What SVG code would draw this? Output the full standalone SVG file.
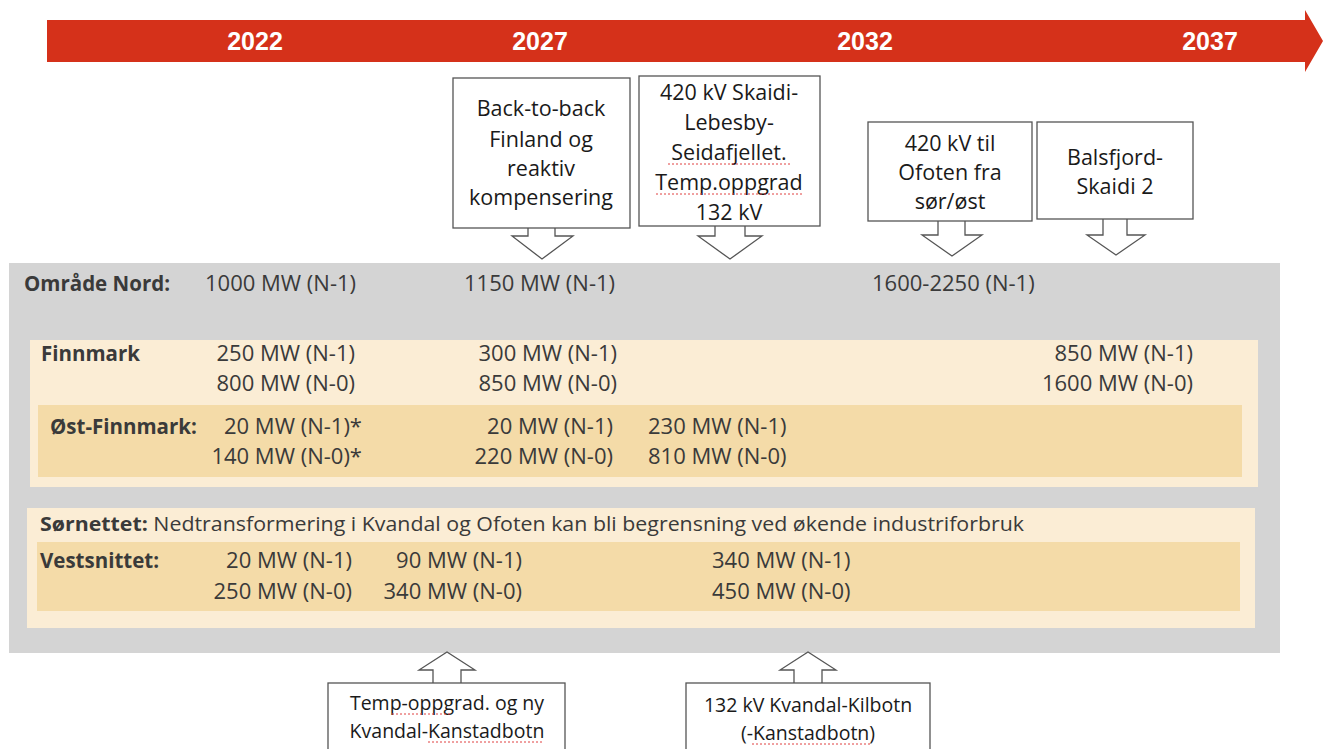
<svg xmlns="http://www.w3.org/2000/svg" width="1323" height="749" viewBox="0 0 1323 749">
<style>
.yr{font-family:"Liberation Sans",Arial,sans-serif;font-weight:bold;font-size:25px;fill:#fff;text-anchor:middle}
.bx{fill:#fff;stroke:#555;stroke-width:1.3}
.bt{font-family:"Open Sans","Liberation Sans",sans-serif;font-size:21.5px;fill:#1a1a1a;text-anchor:middle}
.bs{font-size:19.5px}
.t{font-family:"Open Sans","Liberation Sans",sans-serif;font-size:22px;fill:#3a3a3a}
.b{font-weight:bold;font-size:20.5px}
.r{text-anchor:end}
.ba{fill:#fff;stroke:#555;stroke-width:1.3}
.sq{stroke:#e04040;stroke-width:1;stroke-dasharray:2 2;fill:none}
</style>
<rect width="1323" height="749" fill="#fff"/>
<g id="timeline">
<path d="M47 20 H1305 V10 L1323 41 L1305 72 V62 H47 Z" fill="#d5311a"/>
<text class="yr" x="255" y="50">2022</text>
<text class="yr" x="540" y="50">2027</text>
<text class="yr" x="865" y="50">2032</text>
<text class="yr" x="1210" y="50">2037</text>
</g>
<g id="omrade-nord">
<rect x="9" y="263" width="1271" height="390" fill="#d4d4d4"/>
<text class="t b" x="24" y="291">Område Nord:</text>
<text class="t" x="205" y="291">1000 MW (N-1)</text>
<text class="t" x="464" y="291">1150 MW (N-1)</text>
<text class="t" x="872" y="291">1600-2250 (N-1)</text>
</g>
<g id="finnmark">
<rect x="30" y="340" width="1228" height="147" fill="#fbedd5"/>
<text class="t b" x="41" y="361">Finnmark</text>
<text class="t r" x="355" y="361">250 MW (N-1)</text>
<text class="t r" x="355" y="391">800 MW (N-0)</text>
<text class="t r" x="617" y="361">300 MW (N-1)</text>
<text class="t r" x="617" y="391">850 MW (N-0)</text>
<text class="t r" x="1193" y="361">850 MW (N-1)</text>
<text class="t r" x="1193" y="391">1600 MW (N-0)</text>
</g>
<g id="ost-finnmark">
<rect x="38" y="405" width="1204" height="72" fill="#f4dba8"/>
<text class="t b" x="50" y="434">Øst-Finnmark:</text>
<text class="t r" x="362" y="434">20 MW (N-1)*</text>
<text class="t r" x="362" y="464">140 MW (N-0)*</text>
<text class="t r" x="613" y="434">20 MW (N-1)</text>
<text class="t r" x="613" y="464">220 MW (N-0)</text>
<text class="t" x="648" y="434">230 MW (N-1)</text>
<text class="t" x="648" y="464">810 MW (N-0)</text>
</g>
<g id="sornettet">
<rect x="27" y="508" width="1228" height="120" fill="#fbedd5"/>
<text class="t" x="40" y="531" textLength="984" lengthAdjust="spacingAndGlyphs" style="font-size:20px"><tspan style="font-weight:bold">Sørnettet:</tspan> Nedtransformering i Kvandal og Ofoten kan bli begrensning ved økende industriforbruk</text>
</g>
<g id="vestsnittet">
<rect x="37" y="542" width="1203" height="69" fill="#f4dba8"/>
<text class="t b" x="40" y="568">Vestsnittet:</text>
<text class="t r" x="352" y="568">20 MW (N-1)</text>
<text class="t r" x="352" y="599">250 MW (N-0)</text>
<text class="t r" x="522" y="568">90 MW (N-1)</text>
<text class="t r" x="522" y="599">340 MW (N-0)</text>
<text class="t" x="712" y="568">340 MW (N-1)</text>
<text class="t" x="712" y="599">450 MW (N-0)</text>
</g>
<g id="connectors">
<path class="ba" d="M528 228 V236 H512 L542 259 L573 236 H555 V228"/>
<path class="ba" d="M715 226 V236 H698 L730 259 L762 236 H745 V226"/>
<path class="ba" d="M938 221 V235 H922 L952 256 L982 235 H965 V221"/>
<path class="ba" d="M1103 219 V235 H1087 L1116 255 L1145 235 H1127 V219"/>
<path class="ba" d="M433 683 V670 H419 L447 652 L475 670 H461 V683"/>
<path class="ba" d="M794 683 V670 H780 L808 652 L836 670 H822 V683"/>
</g>
<g id="box-backtoback">
<rect class="bx" x="453" y="78" width="177" height="150"/>
<text class="bt" x="541" y="116">Back-to-back</text>
<text class="bt" x="541" y="147">Finland og</text>
<text class="bt" x="541" y="176">reaktiv</text>
<text class="bt" x="541" y="205">kompensering</text>
</g>
<g id="box-skaidi-lebesby">
<rect class="bx" x="639" y="76" width="181" height="150"/>
<text class="bt" x="729" y="100">420 kV Skaidi-</text>
<text class="bt" x="729" y="130">Lebesby-</text>
<text class="bt" x="729" y="160">Seidafjellet.</text>
<text class="bt" x="729" y="190">Temp.oppgrad</text>
<text class="bt" x="729" y="220">132 kV</text>
<path class="sq" d="M668 164 H792 M656 194 H802"/>
</g>
<g id="box-ofoten">
<rect class="bx" x="868" y="122" width="164" height="99"/>
<text class="bt" x="950" y="151">420 kV til</text>
<text class="bt" x="950" y="180">Ofoten fra</text>
<text class="bt" x="950" y="209">sør/øst</text>
</g>
<g id="box-balsfjord">
<rect class="bx" x="1037" y="122" width="156" height="97"/>
<text class="bt" x="1115" y="165">Balsfjord-</text>
<text class="bt" x="1115" y="194">Skaidi 2</text>
</g>
<g id="box-kanstadbotn">
<rect class="bx" x="328" y="683" width="237" height="70"/>
<text class="bt bs" x="447" y="710">Temp-oppgrad. og ny</text>
<text class="bt bs" x="447" y="738">Kvandal-Kanstadbotn</text>
<path class="sq" d="M392 714 H452 M428 742 H542"/>
</g>
<g id="box-kilbotn">
<rect class="bx" x="686" y="683" width="244" height="70"/>
<text class="bt bs" x="808" y="712">132 kV Kvandal-Kilbotn</text>
<text class="bt bs" x="808" y="740">(-Kanstadbotn)</text>
<path class="sq" d="M752 744 H872"/>
</g>
</svg>
